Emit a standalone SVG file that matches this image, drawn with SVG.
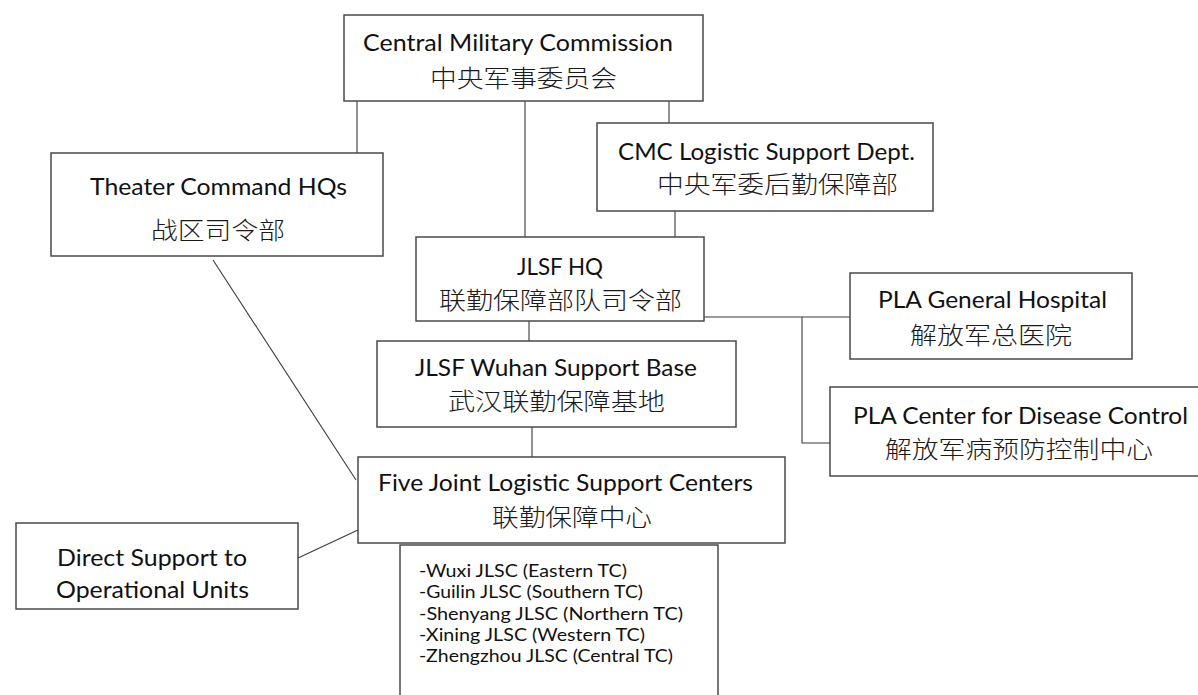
<svg xmlns="http://www.w3.org/2000/svg" width="1198" height="695" viewBox="0 0 1198 695">
<style>
.box{fill:#fff;stroke:#4a4a4a;stroke-width:1.5}
.ln{fill:none;stroke:#3a3a3a;stroke-width:1.1}
.en{font-family:Lato,"Open Sans","Liberation Sans",sans-serif;font-size:23px;fill:#111}
.zh{font-family:"Noto Sans CJK SC",sans-serif;font-size:24px;font-weight:300;fill:#1a1a1a}
.li{font-family:Lato,"Open Sans","Liberation Sans",sans-serif;font-size:17px;fill:#111}
</style>
<rect width="1198" height="695" fill="#fff"/>
<g id="connectors">
<line class="ln" x1="357" y1="101" x2="357" y2="153"/>
<line class="ln" x1="525" y1="101" x2="525" y2="237"/>
<line class="ln" x1="669" y1="101" x2="669" y2="123"/>
<line class="ln" x1="675" y1="211" x2="675" y2="237"/>
<line class="ln" x1="529" y1="321" x2="529" y2="341"/>
<line class="ln" x1="704" y1="317" x2="850" y2="317"/>
<polyline class="ln" points="802,317 802,443 830,443"/>
<line class="ln" x1="532" y1="427" x2="532" y2="457"/>
<line class="ln" x1="213" y1="260" x2="356" y2="480"/>
<line class="ln" x1="298" y1="558" x2="358" y2="530"/>
</g>
<g id="cmc">
<rect class="box" x="344" y="15" width="359" height="86"/>
<text class="en" x="363" y="51" textLength="310" lengthAdjust="spacingAndGlyphs">Central Military Commission</text>
<text class="zh" x="430" y="87" textLength="187" lengthAdjust="spacingAndGlyphs">中央军事委员会</text>
</g>
<g id="theater">
<rect class="box" x="51" y="153" width="332" height="103"/>
<text class="en" x="90" y="195" textLength="257" lengthAdjust="spacingAndGlyphs">Theater Command HQs</text>
<text class="zh" x="151" y="239" textLength="134" lengthAdjust="spacingAndGlyphs">战区司令部</text>
</g>
<g id="cmclog">
<rect class="box" x="597" y="123" width="336" height="88"/>
<text class="en" x="618" y="160" textLength="297" lengthAdjust="spacingAndGlyphs">CMC Logistic Support Dept.</text>
<text class="zh" x="657" y="193" textLength="241" lengthAdjust="spacingAndGlyphs">中央军委后勤保障部</text>
</g>
<g id="jlsfhq">
<rect class="box" x="416" y="237" width="288" height="84"/>
<text class="en" x="517" y="275" textLength="86" lengthAdjust="spacingAndGlyphs">JLSF HQ</text>
<text class="zh" x="439" y="309" textLength="243" lengthAdjust="spacingAndGlyphs">联勤保障部队司令部</text>
</g>
<g id="wuhan">
<rect class="box" x="377" y="341" width="359" height="86"/>
<text class="en" x="415" y="376" textLength="282" lengthAdjust="spacingAndGlyphs">JLSF Wuhan Support Base</text>
<text class="zh" x="448" y="410" textLength="217" lengthAdjust="spacingAndGlyphs">武汉联勤保障基地</text>
</g>
<g id="five">
<rect class="box" x="358" y="457" width="427" height="86"/>
<text class="en" x="378" y="491" textLength="375" lengthAdjust="spacingAndGlyphs">Five Joint Logistic Support Centers</text>
<text class="zh" x="492" y="526" textLength="160" lengthAdjust="spacingAndGlyphs">联勤保障中心</text>
</g>
<g id="plagh">
<rect class="box" x="850" y="273" width="282" height="86"/>
<text class="en" x="878" y="308" textLength="229" lengthAdjust="spacingAndGlyphs">PLA General Hospital</text>
<text class="zh" x="910" y="344" textLength="162" lengthAdjust="spacingAndGlyphs">解放军总医院</text>
</g>
<g id="placdc">
<rect class="box" x="830" y="387" width="375" height="89"/>
<text class="en" x="853" y="424" textLength="335" lengthAdjust="spacingAndGlyphs">PLA Center for Disease Control</text>
<text class="zh" x="885" y="458" textLength="268" lengthAdjust="spacingAndGlyphs">解放军病预防控制中心</text>
</g>
<g id="direct">
<rect class="box" x="16" y="523" width="282" height="86"/>
<text class="en" x="57" y="566" textLength="190" lengthAdjust="spacingAndGlyphs">Direct Support to</text>
<text class="en" x="56" y="598" textLength="193" lengthAdjust="spacingAndGlyphs">Operational Units</text>
</g>
<g id="jlsclist">
<rect class="box" x="400" y="545" width="318" height="165"/>
<text class="li" x="419" y="577" textLength="208" lengthAdjust="spacingAndGlyphs">-Wuxi JLSC (Eastern TC)</text>
<text class="li" x="419" y="598" textLength="224" lengthAdjust="spacingAndGlyphs">-Guilin JLSC (Southern TC)</text>
<text class="li" x="419" y="620" textLength="264" lengthAdjust="spacingAndGlyphs">-Shenyang JLSC (Northern TC)</text>
<text class="li" x="419" y="641" textLength="226" lengthAdjust="spacingAndGlyphs">-Xining JLSC (Western TC)</text>
<text class="li" x="419" y="662" textLength="254" lengthAdjust="spacingAndGlyphs">-Zhengzhou JLSC (Central TC)</text>
</g>
</svg>
